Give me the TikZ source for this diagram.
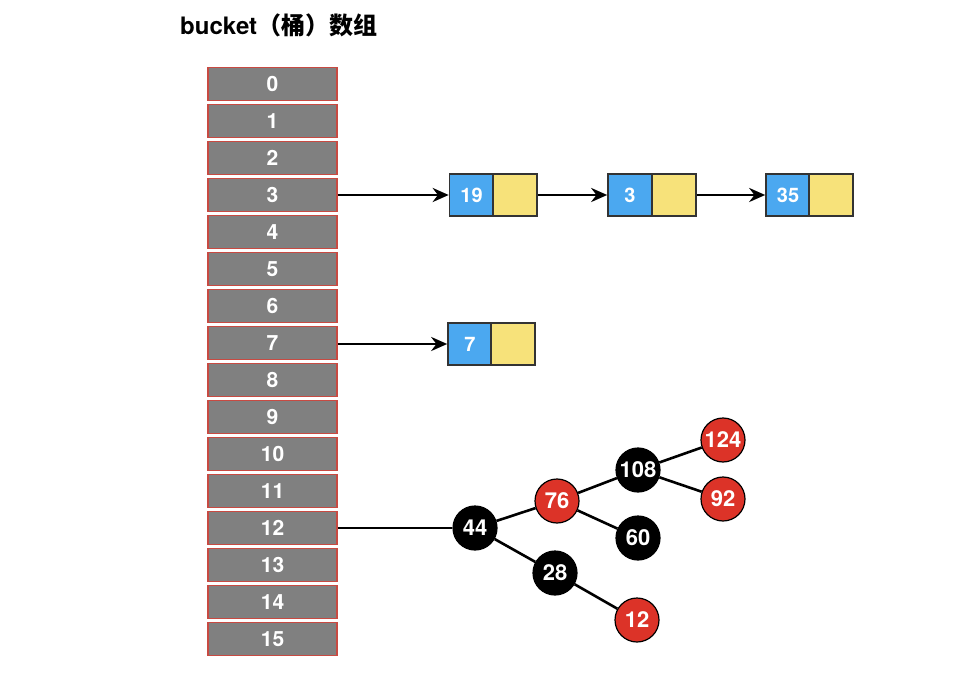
\documentclass[tikz,border=0pt]{standalone}
\usepackage{fontspec}
\setmainfont{TeX Gyre Heros}
\newfontfamily\cjk{Noto Sans CJK SC}
\usetikzlibrary{arrows.meta}
\definecolor{cellgray}{HTML}{808080}
\definecolor{cellred}{HTML}{C84A42}
\definecolor{keyblue}{HTML}{4BA8F0}
\definecolor{keyyellow}{HTML}{F7E27A}
\definecolor{rbred}{HTML}{DC3328}
\tikzset{
  cell/.style={draw=cellred, line width=1.5pt, fill=cellgray, minimum width=129pt, minimum height=33pt, inner sep=0pt, text=white, font=\bfseries\fontsize{21}{21}\selectfont},
  keybox/.style={draw=black!80, line width=1.6pt, fill=keyblue, minimum width=44pt, minimum height=42pt, inner sep=0pt, text=white, font=\bfseries\fontsize{20}{20}\selectfont},
  nextbox/.style={draw=black!80, line width=1.6pt, fill=keyyellow, minimum width=44pt, minimum height=42pt, inner sep=0pt},
  rbnode/.style={circle, draw=black, line width=1.2pt, minimum size=44pt, inner sep=0pt, text=white, font=\bfseries\fontsize{22}{22}\selectfont},
  blacknode/.style={rbnode, fill=black},
  rednode/.style={rbnode, fill=rbred},
  link/.style={line width=2.6pt, black, -{Stealth[length=16pt, width=14pt]}},
  edge/.style={line width=2.6pt, black}
}
\begin{document}
\begin{tikzpicture}[x=1pt, y=-1pt]
\useasboundingbox (0,0) rectangle (976,692);
% title
\node[anchor=west, inner sep=0pt, font=\bfseries\fontsize{24}{24}\selectfont] (title) at (180,25) {bucket{\cjk\bfseries（桶）数组}};
% bucket cells
\foreach \i in {0,...,15} {
  \node[cell] (c\i) at (272.5, 84+37*\i) {\i};
}
% list at bucket 3
\node[keybox] (k19) at (471.5,195) {19};
\node[nextbox] (n19) at (515,195) {};
\node[keybox] (k3) at (630,195) {3};
\node[nextbox] (n3) at (674,195) {};
\node[keybox] (k35) at (788,195) {35};
\node[nextbox] (n35) at (831,195) {};
\draw[link] (c3.east) -- (k19.west);
\draw[link] (n19.east) -- (k3.west);
\draw[link] (n3.east) -- (k35.west);
% list at bucket 7
\node[keybox] (k7) at (470,344) {7};
\node[nextbox] (n7) at (513,344) {};
\draw[link] (c7.east |- k7.west) -- (k7.west);
% red-black tree at bucket 12
\node[blacknode] (t44) at (475,528) {44};
\node[rednode] (t76) at (557,501) {76};
\node[blacknode] (t28) at (555,573) {28};
\node[blacknode] (t108) at (638,470) {108};
\node[blacknode] (t60) at (638,538) {60};
\node[rednode] (t12) at (637,620) {12};
\node[rednode] (t124) at (723,440) {124};
\node[rednode] (t92) at (723,499) {92};
\draw[edge] (c12.east) -- (t44);
\draw[edge] (t44) -- (t76);
\draw[edge] (t44) -- (t28);
\draw[edge] (t76) -- (t108);
\draw[edge] (t76) -- (t60);
\draw[edge] (t108) -- (t124);
\draw[edge] (t108) -- (t92);
\draw[edge] (t28) -- (t12);
\end{tikzpicture}
\end{document}
